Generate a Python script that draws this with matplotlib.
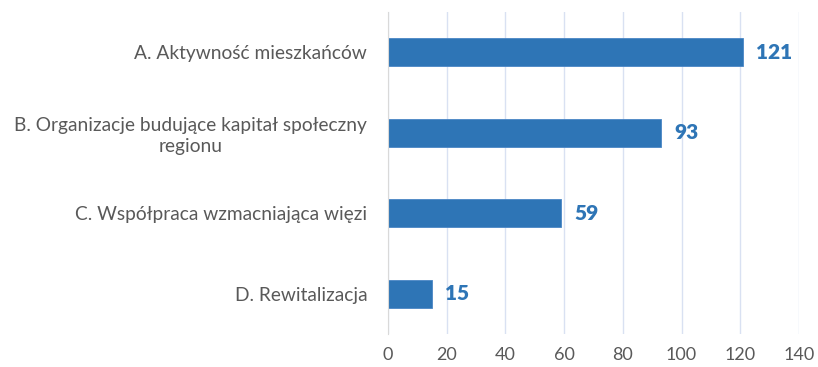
import matplotlib
matplotlib.use("Agg")
import matplotlib.pyplot as plt

categories = [
    "A. Aktywność mieszkańców",
    "B. Organizacje budujące kapitał społeczny\nregionu",
    "C. Współpraca wzmacniająca więzi",
    "D. Rewitalizacja",
]
values = [121, 93, 59, 15]
xticks = [0, 20, 40, 60, 80, 100, 120, 140]

bar_color = "#2E75B6"
text_color = "#595959"
grid_color = "#D9E1F2"

plt.rcParams["font.family"] = ["Lato", "DejaVu Sans"]

fig = plt.figure(figsize=(8.18, 3.67), dpi=100)
W, H = 818, 367
ax = fig.add_axes([388 / W, 1 - 334 / H, (799 - 388) / W, (334 - 12) / H])

ypos = list(range(len(categories)))
ax.barh(ypos, values, height=0.35, color=bar_color, edgecolor="#4A86C5", linewidth=0.6, zorder=3)

for y, v in zip(ypos, values):
    ax.text(v + 4.5, y, str(v), va="center", ha="left", fontsize=15,
            fontweight="heavy", color=bar_color)

ax.set_xlim(0, 140)
ax.set_ylim(3.5, -0.5)
ax.set_xticks(xticks)
ax.set_xticklabels([str(t) for t in xticks], fontsize=13, color=text_color)
ax.set_yticks(ypos)
ax.set_yticklabels(categories, fontsize=13.8, color=text_color, ha="right",
                   multialignment="center", linespacing=1.25)
ax.tick_params(axis="y", length=0, pad=15)
ax.tick_params(axis="x", length=0, pad=9)

ax.grid(axis="x", color=grid_color, linewidth=1, zorder=0)
ax.grid(axis="y", visible=False)
for side in ["top", "right", "bottom"]:
    ax.spines[side].set_visible(False)
ax.spines["left"].set_color("#D9D9D9")
ax.spines["left"].set_zorder(4)

fig.savefig("out.png", dpi=100)
